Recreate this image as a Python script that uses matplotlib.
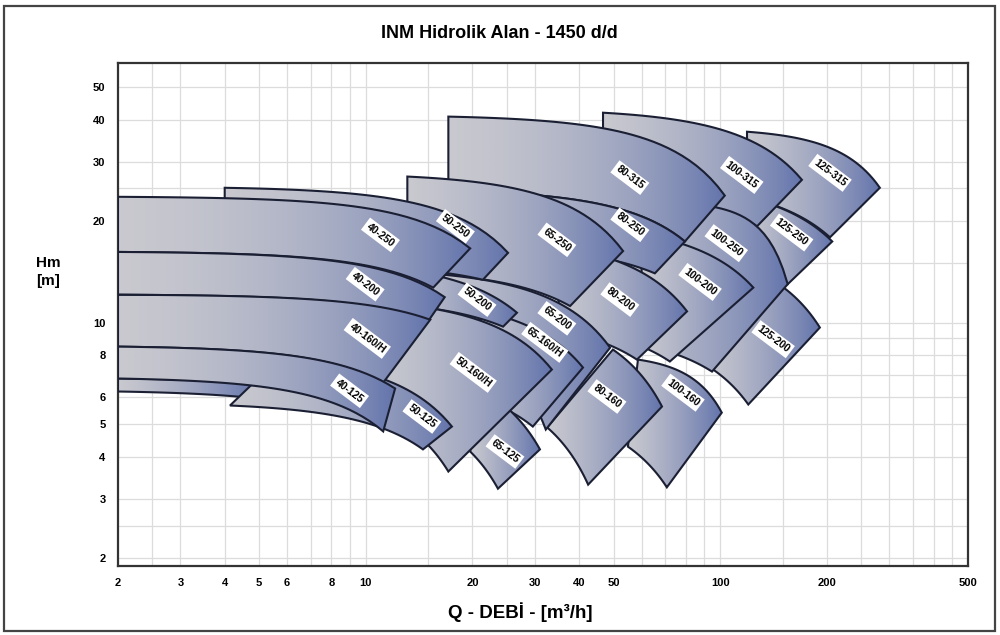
import numpy as np
import matplotlib
matplotlib.use('Agg')
import matplotlib.pyplot as plt
from matplotlib.path import Path
from matplotlib.patches import PathPatch, Rectangle
from matplotlib.colors import LinearSegmentedColormap

plt.rcParams['font.family'] = ['Liberation Sans', 'DejaVu Sans']

# hydraulic regions, back to front; corners are (Q m3/h, H m)
names = ['125-315', '125-250', '125-200', '100-315', '100-250', '100-200', '100-160',
         '80-315', '80-250', '80-200', '80-160', '65-250', '65-200', '65-160/H', '65-125',
         '50-250', '50-200', '50-160/H', '', '50-125',
         '40-250', '40-200', '40-160/H', '40-125']
tl_q = [119, 119, 148, 46.7, 46.7, 60, 58.6, 17.1, 17.1, 35, 49.8, 13.1, 15.0, 21, 21,
        4.0, 12.5, 11.0, 2, 5.65, 2, 2, 2, 2]
tl_h = [36.8, 23.5, 12.9, 41.9, 22.9, 18.3, 7.77, 40.8, 24.6, 16.8, 8.32, 27.1, 14.0, 10.85, 6.36,
        25.1, 14.4, 11.5, 6.83, 7.78, 23.6, 16.2, 12.1, 8.49]
tr_q = [282, 207, 191, 170, 155, 124, 101, 103, 79.5, 80.6, 68.5, 53.2, 48.9, 41.0, 31.0,
        25.2, 26.7, 33.5, 5.0, 17.5, 19.7, 16.7, 15.2, 12.1]
tr_h = [25.1, 17.4, 9.67, 26.5, 13.0, 12.7, 5.41, 23.8, 17.4, 10.8, 5.64, 16.3, 8.43, 7.36, 4.21,
        16.1, 10.7, 7.26, 6.6, 4.92, 16.6, 11.9, 10.2, 6.38]
br_q = [204, 155, 120, 127, 94.8, 72.1, 70.7, 79.5, 65.4, 58.2, 42.4, 37.7, 32.2, 29.6, 23.6,
        21.4, 24.4, 17.1, 5.0, 14.5, 15.5, 15.0, 11.2, 11.2]
br_h = [17.9, 13.0, 5.72, 19.3, 7.16, 7.67, 3.25, 17.4, 14.0, 7.77, 3.31, 11.2, 4.82, 4.92, 3.22,
        13.4, 9.73, 3.62, 5.95, 4.21, 12.7, 10.1, 6.64, 4.76]
bl_q = [119, 119, 92.0, 46.7, 60, 60, 54.9, 17.1, 17.1, 35, 32.5, 13.1, 15.0, 21, 19.7,
        4.0, 12.5, 11.0, 2, 4.14, 2, 2, 2, 2]
bl_h = [23.5, 16.0, 7.45, 24.8, 8.6, 8.5, 4.29, 24.6, 16.9, 9.49, 4.89, 14.1, 10.1, 5.96, 4.15,
        15.0, 11.3, 5.44, 6.25, 5.68, 16.2, 12.1, 8.49, 6.83]
top_exp = [3, 2, 2, 2, 5, 2, 4, 2, 2, 2, 2, 2, 2, 2, 2, 2, 2, 2, 2, 2, 2, 2, 2, 2]
label_q = [204, 159, 141, 115, 104, 87.7, 78.5, 55.6, 55.6, 52.1, 47.9, 34.6, 34.6, 32.0, 24.7,
           17.9, 20.6, 20.1, None, 14.4, 11.0, 9.96, 10.1, 9.0]
label_h = [27.8, 18.5, 8.93, 27.4, 17.2, 13.2, 6.2, 26.9, 19.5, 11.7, 6.04, 17.6, 10.3, 8.74, 4.15,
           19.3, 11.7, 7.12, None, 5.27, 18.2, 13.0, 8.98, 6.28]

x_ticks = [2, 3, 4, 5, 6, 8, 10, 20, 30, 40, 50, 100, 200, 500]
y_ticks = [2, 3, 4, 5, 6, 8, 10, 20, 30, 40, 50]
x_grid = [2.5, 3, 4, 5, 6, 7, 8, 9, 10, 15, 20, 25, 30, 40, 50, 60, 70, 80, 90, 100,
          150, 200, 250, 300, 350, 400, 450]
y_grid = [2, 2.5, 3, 4, 5, 6, 7, 8, 9, 10, 15, 20, 25, 30, 40, 50]


def head_curve(q1, h1, q2, h2, n, num=40):
    # pump head curve shape H = a - b*Q^n through the two read corners
    q = np.geomspace(q1, q2, num)
    b = (h1 - h2) / (q2 ** n - q1 ** n)
    return q, h1 + b * q1 ** n - b * q ** n


fig = plt.figure(figsize=(10, 6.35), dpi=100)
ax = fig.add_axes([0.118, 0.1087, 0.85, 0.792])
ax.set_xscale('log')
ax.set_yscale('log')
ax.set_xlim(2, 500)
ax.set_ylim(1.9, 58.8)

for g in x_grid:
    ax.axvline(g, color='#dcdcdc', lw=0.9, zorder=0)
for g in y_grid:
    ax.axhline(g, color='#dcdcdc', lw=0.9, zorder=0)

fill_cmap = LinearSegmentedColormap.from_list('fill', ['#c9c9cf', '#6374ac'])
grad = np.linspace(0, 1, 256).reshape(1, -1)

for i, name in enumerate(names):
    tq, th = head_curve(tl_q[i], tl_h[i], tr_q[i], tr_h[i], top_exp[i])
    bq, bh = head_curve(bl_q[i], bl_h[i], br_q[i], br_h[i], 2)
    qs = np.concatenate([tq, bq[::-1], [tq[0]]])
    hs = np.concatenate([th, bh[::-1], [th[0]]])
    verts = np.column_stack([qs, hs])
    z = 2 + i
    patch = PathPatch(Path(verts, closed=True), facecolor='none', edgecolor='#1b1f33',
                      lw=1.5, zorder=z + 0.5)
    ax.add_patch(patch)
    im = ax.imshow(grad, extent=(qs.min(), qs.max(), hs.min(), hs.max()), cmap=fill_cmap,
                   aspect='auto', interpolation='bilinear', zorder=z)
    im.set_clip_path(patch)
    if name:
        ax.text(label_q[i], label_h[i], name, rotation=-37, rotation_mode='anchor',
                ha='center', va='center', fontsize=7.5, fontweight='bold', zorder=100,
                bbox=dict(boxstyle='square,pad=0.25', fc='white', ec='none'))

ax.set_xlim(2, 500)
ax.set_ylim(1.9, 58.8)
ax.set_xticks(x_ticks)
ax.set_xticklabels([str(t) for t in x_ticks])
ax.set_yticks(y_ticks)
ax.set_yticklabels([str(t) for t in y_ticks])
ax.minorticks_off()
ax.tick_params(length=0, pad=9, labelsize=8)
for lab in ax.get_xticklabels() + ax.get_yticklabels():
    lab.set_fontweight('bold')
for sp in ax.spines.values():
    sp.set_linewidth(1.6)
    sp.set_color('#333333')

fig.text(0.499, 1 - 33 / 635, 'INM Hidrolik Alan - 1450 d/d', ha='center', va='center',
         fontsize=13, fontweight='bold')
fig.text(0.52, 1 - 612 / 635, 'Q - DEBİ - [m³/h]', ha='center', va='center',
         fontsize=13.5, fontweight='bold')
fig.text(0.036, 1 - 272 / 635, 'Hm\n[m]', ha='left', va='center',
         fontsize=11, fontweight='bold', linespacing=1.3)
fig.patches.append(Rectangle((0.004, 0.006), 0.991, 0.984, transform=fig.transFigure,
                             fill=False, lw=1.6, ec='#444444'))

fig.savefig('out.png', dpi=100)
